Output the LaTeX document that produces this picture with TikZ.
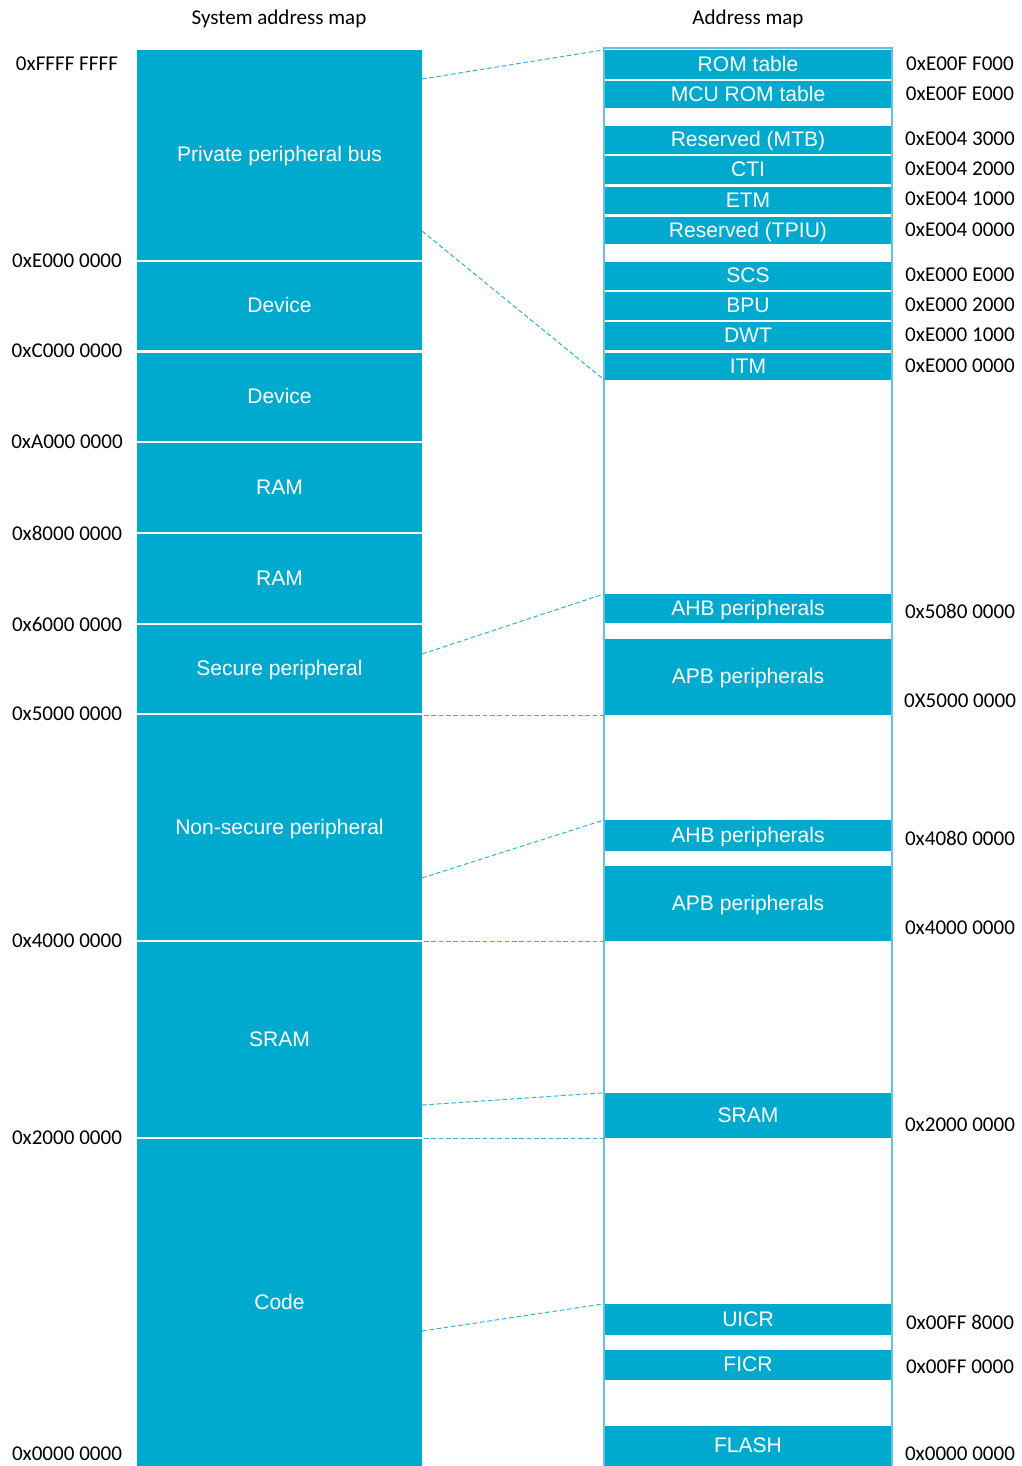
\documentclass[tikz,border=0pt]{standalone}
\usepackage{fontspec}
\setmainfont{Carlito}
\newfontfamily\arialf{Liberation Sans}
\usetikzlibrary{fit}
\definecolor{nblue}{HTML}{00AACE}
\definecolor{dblue}{HTML}{2FB3DA}
\definecolor{oblue}{HTML}{62C3E2}
\tikzset{
  blk/.style={fill=nblue, inner sep=0pt},
  blktxt/.style={inner sep=0pt, text=white, text height=11.3pt, text depth=0pt, anchor=center, yshift=0.6pt, font=\arialf\fontsize{15.8}{18}\selectfont},
  addr/.style={font=\fontsize{15.8}{18}\selectfont, inner sep=0pt, text=black},
  link/.style={dblue, line width=0.75pt, dash pattern=on 3.5pt off 2pt},
  outl/.style={draw=oblue, line width=0.8pt, inner sep=0pt}
}
\newcommand\blkL[4]{\node[blk, fit={(137,#1) (422,#2)}] (#3) {};\node[blktxt] (#3-t) at (#3.center) {#4};}
\newcommand\blkR[4]{\node[blk, fit={(605,#1) (891,#2)}] (#3) {};\node[blktxt] (#3-t) at (#3.center) {#4};}
\begin{document}
\begin{tikzpicture}[x=0.75pt,y=-0.75pt]
\useasboundingbox (0,0) rectangle (1021,1466);
% titles
\node[addr] (t1) at (279,19) {System address map};
\node[addr] (t2) at (748,19) {Address map};
% left column
\blkL{50}{260}{ppb}{Private peripheral bus}
\blkL{262}{350}{dev1}{Device}
\blkL{353}{441}{dev2}{Device}
\blkL{443}{532}{ram1}{RAM}
\blkL{534}{623}{ram2}{RAM}
\blkL{625}{713}{sec}{Secure peripheral}
\blkL{715}{940}{nsec}{Non-secure peripheral}
\blkL{942}{1137}{sram}{SRAM}
\blkL{1139}{1466}{code}{Code}
% right column
\blkR{50}{79}{rom}{ROM table}
\blkR{81}{108}{mcu}{MCU ROM table}
\blkR{126}{154}{mtb}{Reserved (MTB)}
\blkR{156}{184}{cti}{CTI}
\blkR{187}{214}{etm}{ETM}
\blkR{217}{244}{tpiu}{Reserved (TPIU)}
\blkR{262}{290}{scs}{SCS}
\blkR{292}{320}{bpu}{BPU}
\blkR{322}{350}{dwt}{DWT}
\blkR{353}{380}{itm}{ITM}
\blkR{594}{623}{ahbA}{AHB peripherals}
\blkR{639}{715}{apbA}{APB peripherals}
\blkR{820}{851}{ahbB}{AHB peripherals}
\blkR{866}{941}{apbB}{APB peripherals}
\blkR{1093}{1138}{sramR}{SRAM}
\blkR{1304}{1335}{uicr}{UICR}
\blkR{1350}{1380}{ficr}{FICR}
\blkR{1426}{1466}{flash}{FLASH}
\node[outl, fit={(604,48) (892,1475)}] (amap) {};
% connectors
\coordinate (c1) at (422,79);
\coordinate (c2) at (422,231);
\coordinate (c3) at (422,654);
\coordinate (c4) at (422,878);
\coordinate (c5) at (422,1105);
\coordinate (c6) at (422,1331);
\draw[link] (c1) -- (rom.north west);
\draw[link] (c2) -- (itm.south west);
\draw[link] (c3) -- (ahbA.north west);
\draw[link] (apbA.south west) -- (apbA.south west -| nsec.east);
\draw[link] (c4) -- (ahbB.north west);
\draw[link] (apbB.south west) -- (apbB.south west -| sram.east);
\draw[link] (c5) -- (sramR.north west);
\draw[link] (sramR.south west) -- (sramR.south west -| code.east);
\draw[link] (c6) -- (uicr.north west);
% left addresses
\node[addr] (aL1) at (67,64) {0xFFFF FFFF};
\node[addr] (aL2) at (67,261) {0xE000 0000};
\node[addr] (aL3) at (67,351) {0xC000 0000};
\node[addr] (aL4) at (67,442) {0xA000 0000};
\node[addr] (aL5) at (67,533) {0x8000 0000};
\node[addr] (aL6) at (67,624) {0x6000 0000};
\node[addr] (aL7) at (67,714) {0x5000 0000};
\node[addr] (aL8) at (67,941) {0x4000 0000};
\node[addr] (aL9) at (67,1138) {0x2000 0000};
\node[addr] (aL10) at (67,1454) {0x0000 0000};
% right addresses
\node[addr] (aR1) at (960,64) {0xE00F F000};
\node[addr] (aR2) at (960,94) {0xE00F E000};
\node[addr] (aR3) at (960,139) {0xE004 3000};
\node[addr] (aR4) at (960,169) {0xE004 2000};
\node[addr] (aR5) at (960,199) {0xE004 1000};
\node[addr] (aR6) at (960,230) {0xE004 0000};
\node[addr] (aR7) at (960,275) {0xE000 E000};
\node[addr] (aR8) at (960,305) {0xE000 2000};
\node[addr] (aR9) at (960,335) {0xE000 1000};
\node[addr] (aR10) at (960,366) {0xE000 0000};
\node[addr] (aR11) at (960,611) {0x5080 0000};
\node[addr] (aR12) at (960,701) {0X5000 0000};
\node[addr] (aR13) at (960,838) {0x4080 0000};
\node[addr] (aR14) at (960,928) {0x4000 0000};
\node[addr] (aR15) at (960,1125) {0x2000 0000};
\node[addr] (aR16) at (960,1322) {0x00FF 8000};
\node[addr] (aR17) at (960,1367) {0x00FF 0000};
\node[addr] (aR18) at (960,1454) {0x0000 0000};
\end{tikzpicture}
\end{document}
